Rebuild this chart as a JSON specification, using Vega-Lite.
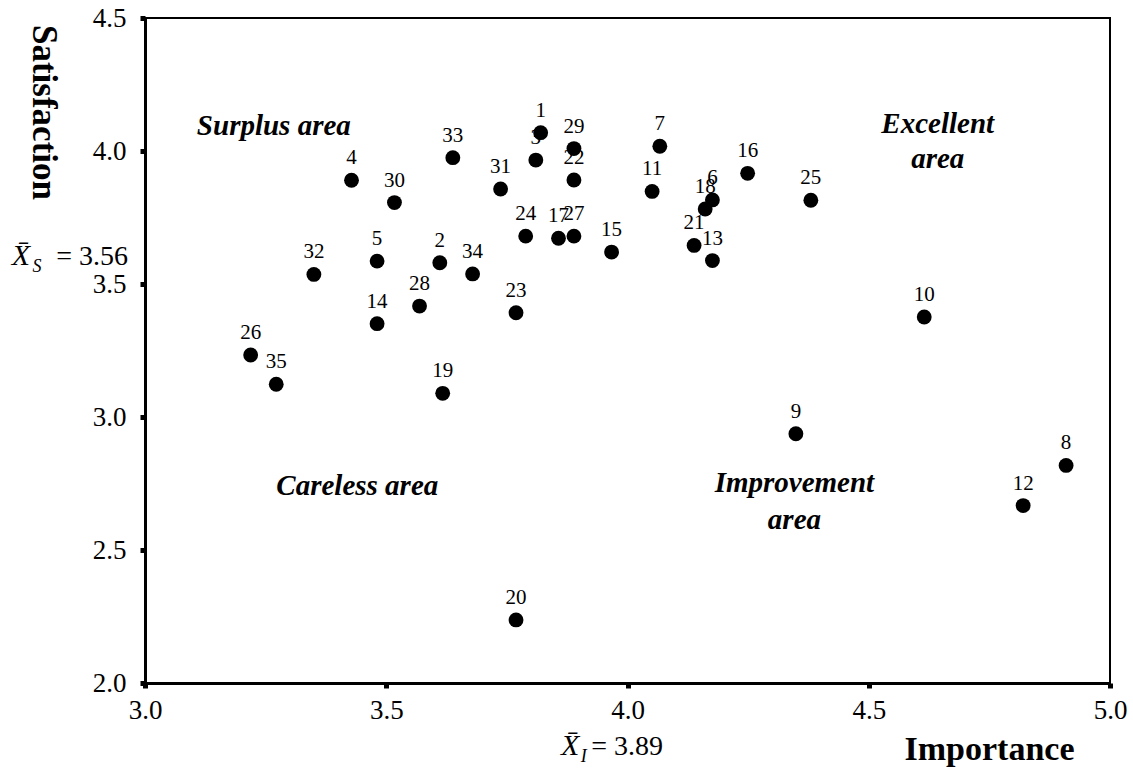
{
  "$schema": "https://vega.github.io/schema/vega-lite/v6.json",
  "width": 965,
  "height": 665,
  "autosize": {"type": "none"},
  "padding": {"left": 145, "top": 18, "right": 23, "bottom": 86},
  "background": "white",
  "config": {
    "view": {"stroke": "black", "strokeWidth": 2},
    "font": "Liberation Serif"
  },
  "datasets": {
    "points": [
      {"id": "1", "importance": 3.820, "satisfaction": 4.069},
      {"id": "2", "importance": 3.611, "satisfaction": 3.580},
      {"id": "3", "importance": 3.810, "satisfaction": 3.966},
      {"id": "4", "importance": 3.428, "satisfaction": 3.890},
      {"id": "5", "importance": 3.481, "satisfaction": 3.586},
      {"id": "6", "importance": 4.176, "satisfaction": 3.816},
      {"id": "7", "importance": 4.067, "satisfaction": 4.018},
      {"id": "8", "importance": 4.909, "satisfaction": 2.818},
      {"id": "9", "importance": 4.349, "satisfaction": 2.937},
      {"id": "10", "importance": 4.615, "satisfaction": 3.376},
      {"id": "11", "importance": 4.051, "satisfaction": 3.848},
      {"id": "12", "importance": 4.820, "satisfaction": 2.667},
      {"id": "13", "importance": 4.176, "satisfaction": 3.588},
      {"id": "14", "importance": 3.481, "satisfaction": 3.351},
      {"id": "15", "importance": 3.967, "satisfaction": 3.620},
      {"id": "16", "importance": 4.249, "satisfaction": 3.916},
      {"id": "17", "importance": 3.857, "satisfaction": 3.672},
      {"id": "18", "importance": 4.161, "satisfaction": 3.782},
      {"id": "19", "importance": 3.617, "satisfaction": 3.089},
      {"id": "20", "importance": 3.769, "satisfaction": 2.237},
      {"id": "21", "importance": 4.138, "satisfaction": 3.645},
      {"id": "22", "importance": 3.889, "satisfaction": 3.891},
      {"id": "23", "importance": 3.769, "satisfaction": 3.392},
      {"id": "24", "importance": 3.789, "satisfaction": 3.680},
      {"id": "25", "importance": 4.380, "satisfaction": 3.815},
      {"id": "26", "importance": 3.219, "satisfaction": 3.233},
      {"id": "27", "importance": 3.889, "satisfaction": 3.680},
      {"id": "28", "importance": 3.569, "satisfaction": 3.417},
      {"id": "29", "importance": 3.889, "satisfaction": 4.009},
      {"id": "30", "importance": 3.517, "satisfaction": 3.806},
      {"id": "31", "importance": 3.737, "satisfaction": 3.857},
      {"id": "32", "importance": 3.350, "satisfaction": 3.536},
      {"id": "33", "importance": 3.638, "satisfaction": 3.975},
      {"id": "34", "importance": 3.679, "satisfaction": 3.538},
      {"id": "35", "importance": 3.272, "satisfaction": 3.123}
    ],
    "quadrants": [
      {"label": "Surplus area", "importance": 3.267, "satisfaction": 4.060},
      {"label": "Excellent", "importance": 4.643, "satisfaction": 4.068},
      {"label": "area", "importance": 4.643, "satisfaction": 3.936},
      {"label": "Careless area", "importance": 3.440, "satisfaction": 2.707},
      {"label": "Improvement", "importance": 4.346, "satisfaction": 2.718},
      {"label": "area", "importance": 4.346, "satisfaction": 2.579}
    ],
    "meanX": [
      {"label": "X\u0304", "importance": 2.724, "satisfaction": 3.571},
      {"label": "X\u0304", "importance": 3.862, "satisfaction": 1.729}
    ],
    "meanSub": [
      {"label": "S", "importance": 2.767, "satisfaction": 3.545},
      {"label": "I", "importance": 3.903, "satisfaction": 1.703}
    ],
    "meanValY": [
      {"label": "= 3.56", "importance": 2.965, "satisfaction": 3.571}
    ],
    "meanValX": [
      {"label": "= 3.89", "importance": 3.925, "satisfaction": 1.729}
    ]
  },
  "layer": [
    {
      "mark": {"type": "rule", "color": "black", "strokeWidth": 1.5},
      "encoding": {"x": {"datum": 3.9, "type": "quantitative", "scale": {"domain": [3, 5], "nice": false, "zero": false}}}
    },
    {
      "mark": {"type": "rule", "color": "black", "strokeWidth": 1.5},
      "encoding": {"y": {"datum": 3.56, "type": "quantitative", "scale": {"domain": [2, 4.5], "nice": false, "zero": false}}}
    },
    {
      "data": {"name": "points"},
      "mark": {"type": "text", "font": "Liberation Serif", "fontSize": 21, "color": "black", "align": "center", "baseline": "middle", "dy": -22},
      "encoding": {
        "x": {"field": "importance", "type": "quantitative"},
        "y": {"field": "satisfaction", "type": "quantitative"},
        "text": {"field": "id"}
      }
    },
    {
      "data": {"name": "points"},
      "mark": {"type": "point", "shape": "circle", "filled": true, "color": "black", "opacity": 1, "size": 220},
      "encoding": {
        "x": {
          "field": "importance", "type": "quantitative",
          "scale": {"domain": [3, 5], "nice": false, "zero": false},
          "axis": {
            "values": [3, 3.5, 4, 4.5, 5], "format": ".1f", "grid": false,
            "domainColor": "black", "domainWidth": 3,
            "tickColor": "black", "tickSize": 5, "tickWidth": 5,
            "labelFont": "Liberation Serif", "labelFontSize": 27, "labelColor": "black", "labelPadding": 9,
            "labelFlush": false, "labelOverlap": false,
            "title": "Importance", "titleFont": "Liberation Serif", "titleFontSize": 34, "titleFontWeight": "bold",
            "titleColor": "black", "titleX": 844, "titleY": 76, "titleAlign": "center", "titleBaseline": "alphabetic"
          }
        },
        "y": {
          "field": "satisfaction", "type": "quantitative",
          "scale": {"domain": [2, 4.5], "nice": false, "zero": false},
          "axis": {
            "values": [2, 2.5, 3, 3.5, 4, 4.5], "format": ".1f", "grid": false,
            "domainColor": "black", "domainWidth": 3,
            "tickColor": "black", "tickSize": 5, "tickWidth": 5,
            "labelFont": "Liberation Serif", "labelFontSize": 27, "labelColor": "black", "labelPadding": 14,
            "labelFlush": false, "labelOverlap": false,
            "title": "Satisfaction", "titleFont": "Liberation Serif", "titleFontSize": 35, "titleFontWeight": "bold",
            "titleColor": "black", "titleAngle": 90, "titleX": -102, "titleY": 94, "titleAlign": "center", "titleBaseline": "middle"
          }
        }
      }
    },
    {
      "data": {"name": "quadrants"},
      "mark": {"type": "text", "font": "Liberation Serif", "fontSize": 29, "fontWeight": "bold", "fontStyle": "italic", "color": "black", "align": "center", "baseline": "alphabetic"},
      "encoding": {
        "x": {"field": "importance", "type": "quantitative"},
        "y": {"field": "satisfaction", "type": "quantitative"},
        "text": {"field": "label"}
      }
    },
    {
      "data": {"name": "meanX"},
      "mark": {"type": "text", "font": "Liberation Serif", "fontSize": 30, "fontStyle": "italic", "color": "black", "align": "left", "baseline": "alphabetic"},
      "encoding": {
        "x": {"field": "importance", "type": "quantitative"},
        "y": {"field": "satisfaction", "type": "quantitative"},
        "text": {"field": "label"}
      }
    },
    {
      "data": {"name": "meanSub"},
      "mark": {"type": "text", "font": "Liberation Serif", "fontSize": 18, "fontStyle": "italic", "color": "black", "align": "left", "baseline": "alphabetic"},
      "encoding": {
        "x": {"field": "importance", "type": "quantitative"},
        "y": {"field": "satisfaction", "type": "quantitative"},
        "text": {"field": "label"}
      }
    },
    {
      "data": {"name": "meanValY"},
      "mark": {"type": "text", "font": "Liberation Serif", "fontSize": 28, "color": "black", "align": "right", "baseline": "alphabetic"},
      "encoding": {
        "x": {"field": "importance", "type": "quantitative"},
        "y": {"field": "satisfaction", "type": "quantitative"},
        "text": {"field": "label"}
      }
    },
    {
      "data": {"name": "meanValX"},
      "mark": {"type": "text", "font": "Liberation Serif", "fontSize": 28, "color": "black", "align": "left", "baseline": "alphabetic"},
      "encoding": {
        "x": {"field": "importance", "type": "quantitative"},
        "y": {"field": "satisfaction", "type": "quantitative"},
        "text": {"field": "label"}
      }
    }
  ]
}
